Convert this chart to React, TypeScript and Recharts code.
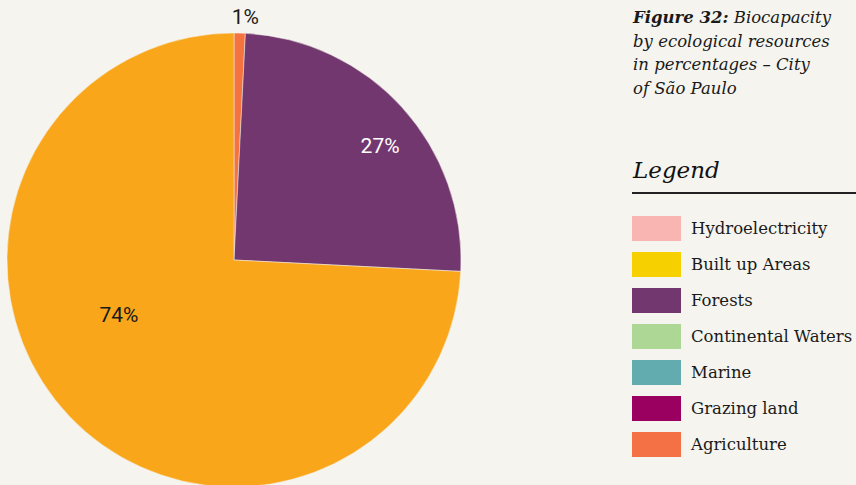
import React from "react";
import { PieChart, Pie, Cell } from "recharts";

// ---- data ----
const sliceNames = ["Agriculture", "Forests", "Built up Areas"];
const sliceValues = [0.8, 25, 74.2];
const sliceLabels = ["1%", "27%", "74%"];
const sliceColors = ["#F4733F", "#73376F", "#F9A61B"];

const legendNames = [
  "Hydroelectricity",
  "Built up Areas",
  "Forests",
  "Continental Waters",
  "Marine",
  "Grazing land",
  "Agriculture",
];
const legendColors = ["#F9B5B1", "#F7D000", "#73376F", "#ADD794", "#62ACB0", "#990060", "#F47146"];

const titleBold = "Figure 32:";
const titleLines = ["Biocapacity", "by ecological resources", "in percentages – City", "of São Paulo"];

// label placement styling (radius as fraction of outer radius, angle shift in degrees)
const labelRadius = [1.073, 0.817, 0.562];
const labelAngleShift = [-1.2, -4.1, -18];
const labelColors = ["#1a1a1a", "#ffffff", "#1a1a1a"];

const data = sliceNames.map((name, i) => ({ name, value: sliceValues[i] }));

const RAD = Math.PI / 180;

const renderLabel = (props: any) => {
  const { cx, cy, midAngle, outerRadius, index } = props;
  const r = outerRadius * labelRadius[index];
  const a = (midAngle + labelAngleShift[index]) * RAD;
  const x = cx + r * Math.cos(a);
  const y = cy - r * Math.sin(a);
  return (
    <text
      x={x}
      y={y}
      fill={labelColors[index]}
      textAnchor="middle"
      dominantBaseline="central"
      fontFamily="Roboto, 'Noto Sans', sans-serif"
      fontSize={21}
    >
      {sliceLabels[index]}
    </text>
  );
};

const serif = "'DejaVu Serif', Georgia, serif";

export default function App() {
  return (
    <div
      style={{
        position: "absolute",
        left: 0,
        top: 0,
        width: 856,
        height: 485,
        background: "#F5F4EE",
        overflow: "hidden",
      }}
    >
      <PieChart width={856} height={485} margin={{ top: 0, right: 0, bottom: 0, left: 0 }}>
        <Pie
          data={data}
          dataKey="value"
          nameKey="name"
          cx={234}
          cy={260}
          outerRadius={227}
          startAngle={90}
          endAngle={-270}
          stroke="#F5F4EE"
          strokeWidth={0.5}
          label={renderLabel}
          labelLine={false}
          isAnimationActive={false}
        >
          {data.map((d, i) => (
            <Cell key={d.name} fill={sliceColors[i]} />
          ))}
        </Pie>
      </PieChart>

      <div
        style={{
          position: "absolute",
          left: 633,
          top: 6,
          width: 223,
          fontFamily: serif,
          fontStyle: "italic",
          fontSize: 16.5,
          lineHeight: "23.5px",
          color: "#1a1a1a",
          whiteSpace: "nowrap",
        }}
      >
        <div>
          <span style={{ fontWeight: "bold" }}>{titleBold}</span> {titleLines[0]}
        </div>
        {titleLines.slice(1).map((l) => (
          <div key={l}>{l}</div>
        ))}
      </div>

      <div
        style={{
          position: "absolute",
          left: 633,
          top: 157,
          fontFamily: serif,
          fontStyle: "italic",
          fontSize: 23,
          color: "#111",
        }}
      >
        Legend
      </div>
      <div
        style={{
          position: "absolute",
          left: 632,
          top: 192,
          width: 224,
          height: 1.5,
          background: "#222",
        }}
      />

      {legendNames.map((name, i) => (
        <div
          key={name}
          style={{
            position: "absolute",
            left: 632,
            top: 216 + i * 36,
            height: 25,
            display: "flex",
            alignItems: "center",
            whiteSpace: "nowrap",
          }}
        >
          <div style={{ width: 49, height: 25, background: legendColors[i] }} />
          <span
            style={{
              marginLeft: 10,
              fontFamily: serif,
              fontSize: 16.5,
              color: "#1a1a1a",
            }}
          >
            {name}
          </span>
        </div>
      ))}
    </div>
  );
}
